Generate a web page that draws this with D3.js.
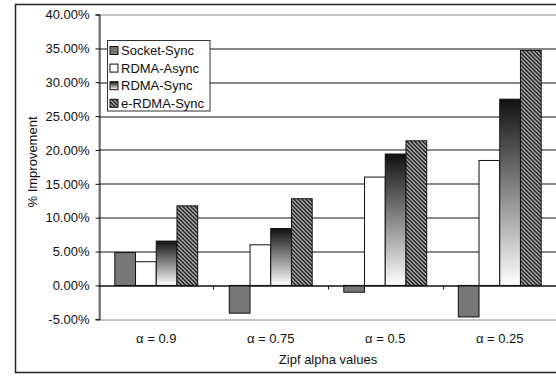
<!DOCTYPE html>
<html>
<head>
<meta charset="utf-8">
<script src="https://cdn.jsdelivr.net/npm/d3@7"></script>
<style>
  html, body { margin: 0; padding: 0; background: #fff; overflow: hidden; }
  svg { display: block; font-family: "Liberation Sans", Arial, sans-serif; }
</style>
</head>
<body>
<div id="chart"></div>
<script>
const categories = ['α = 0.9', 'α = 0.75', 'α = 0.5', 'α = 0.25'];
const seriesNames = ['Socket-Sync', 'RDMA-Async', 'RDMA-Sync', 'e-RDMA-Sync'];
const socketSync = [4.85, -4.1, -1.0, -4.65];
const rdmaAsync = [3.5, 6.0, 16.0, 18.45];
const rdmaSync = [6.55, 8.4, 19.4, 27.5];
const eRdmaSync = [11.75, 12.8, 21.35, 34.7];
const yTicks = [-5, 0, 5, 10, 15, 20, 25, 30, 35, 40];

const seriesValues = [socketSync, rdmaAsync, rdmaSync, eRdmaSync];
const data = categories.map((c, i) => ({
  cat: c,
  vals: seriesNames.map((s, j) => ({ key: s, value: seriesValues[j][i] }))
}));

const width = 556, height = 377;
const margin = { top: 14.5, right: -1, bottom: 57.7, left: 99 };
const innerWidth = width - margin.left - margin.right;
const innerHeight = height - margin.top - margin.bottom;

const svg = d3.select('#chart').append('svg')
  .attr('width', width)
  .attr('height', height);

const defs = svg.append('defs');
const grad = defs.append('linearGradient')
  .attr('id', 'syncGrad')
  .attr('x1', 0).attr('y1', 0).attr('x2', 0).attr('y2', 1);
grad.append('stop').attr('offset', '0%').attr('stop-color', '#111');
grad.append('stop').attr('offset', '100%').attr('stop-color', '#fff');

const hatch = defs.append('pattern')
  .attr('id', 'hatch')
  .attr('patternUnits', 'userSpaceOnUse')
  .attr('width', 4).attr('height', 4);
hatch.append('rect').attr('width', 4).attr('height', 4).attr('fill', '#fff');
hatch.append('path')
  .attr('d', 'M-1,-1 L5,5 M-1,3 L1,5 M3,-1 L5,1')
  .attr('stroke', '#000')
  .attr('stroke-width', 1.6);

const fills = {
  'Socket-Sync': '#777',
  'RDMA-Async': '#fff',
  'RDMA-Sync': 'url(#syncGrad)',
  'e-RDMA-Sync': 'url(#hatch)'
};

// outer chart frame (right side runs off the picture)
svg.append('rect')
  .attr('x', 15.5).attr('y', 4.5)
  .attr('width', 620).attr('height', 368)
  .attr('fill', 'none')
  .attr('stroke', '#222')
  .attr('stroke-width', 1.5);

const g = svg.append('g')
  .attr('transform', `translate(${margin.left},${margin.top})`);

const x0 = d3.scaleBand()
  .domain(categories)
  .range([0, innerWidth])
  .paddingInner(0.276)
  .paddingOuter(0.138);

const x1 = d3.scaleBand()
  .domain(seriesNames)
  .range([0, x0.bandwidth()]);

const y = d3.scaleLinear()
  .domain([-5, 40])
  .range([innerHeight, 0]);

// gridlines
g.selectAll('.grid')
  .data(yTicks.filter(t => t > -5 && t < 40))
  .enter().append('line')
  .attr('class', 'grid')
  .attr('x1', 0).attr('x2', innerWidth)
  .attr('y1', d => Math.round(y(d)) + 0.5)
  .attr('y2', d => Math.round(y(d)) + 0.5)
  .attr('stroke', '#111')
  .attr('stroke-width', 1);

// plot area border (grey)
g.append('rect')
  .attr('x', 0).attr('y', Math.round(y(40)) + 0.5)
  .attr('width', innerWidth + 10)
  .attr('height', Math.round(y(-5)) - Math.round(y(40)))
  .attr('fill', 'none')
  .attr('stroke', '#888')
  .attr('stroke-width', 1);

// bars
const groups = g.selectAll('.grp')
  .data(data)
  .enter().append('g')
  .attr('class', 'grp')
  .attr('transform', d => `translate(${x0(d.cat)},0)`);

groups.selectAll('rect')
  .data(d => d.vals)
  .enter().append('rect')
  .attr('x', d => x1(d.key))
  .attr('y', d => y(Math.max(0, d.value)))
  .attr('width', x1.bandwidth())
  .attr('height', d => Math.abs(y(d.value) - y(0)))
  .attr('fill', d => fills[d.key])
  .attr('stroke', '#111')
  .attr('stroke-width', 1);

// y axis
const yAxis = d3.axisLeft(y)
  .tickValues(yTicks)
  .tickSize(4)
  .tickPadding(6)
  .tickFormat(d => d.toFixed(2) + '%');

const yAxisG = g.append('g')
  .attr('transform', 'translate(0.5,0)')
  .attr('font-family', '"Liberation Sans", Arial, sans-serif')
  .call(yAxis);
yAxisG.select('.domain').attr('stroke', '#111');
yAxisG.selectAll('.tick line').attr('stroke', '#111');
yAxisG.selectAll('text')
  .attr('font-size', 13)
  .attr('fill', '#111');

// zero line with category ticks
g.append('line')
  .attr('x1', 0).attr('x2', innerWidth)
  .attr('y1', Math.round(y(0)) + 0.5).attr('y2', Math.round(y(0)) + 0.5)
  .attr('stroke', '#111');

g.selectAll('.cattick')
  .data(categories.slice(1))
  .enter().append('line')
  .attr('class', 'cattick')
  .attr('x1', d => Math.round(x0(d) - x0.step() * x0.paddingInner() / 2) + 0.5)
  .attr('x2', d => Math.round(x0(d) - x0.step() * x0.paddingInner() / 2) + 0.5)
  .attr('y1', y(0)).attr('y2', y(0) + 4)
  .attr('stroke', '#111');

// category labels
g.selectAll('.catlabel')
  .data(categories)
  .enter().append('text')
  .attr('class', 'catlabel')
  .attr('x', d => x0(d) + x0.bandwidth() / 2)
  .attr('y', innerHeight + 24)
  .attr('text-anchor', 'middle')
  .attr('font-size', 13)
  .attr('fill', '#111')
  .text(d => d);

// axis titles
g.append('text')
  .attr('x', innerWidth / 2)
  .attr('y', innerHeight + 45)
  .attr('text-anchor', 'middle')
  .attr('font-size', 13)
  .attr('fill', '#111')
  .text('Zipf alpha values');

g.append('text')
  .attr('transform', `translate(${37 - margin.left},${162 - margin.top}) rotate(-90)`)
  .attr('text-anchor', 'middle')
  .attr('font-size', 13)
  .attr('fill', '#111')
  .text('% Improvement');

// legend
const legend = svg.append('g').attr('transform', 'translate(107.5,40.5)');
legend.append('rect')
  .attr('width', 102.5).attr('height', 70.5)
  .attr('fill', '#fff')
  .attr('stroke', '#333');

const item = legend.selectAll('.item')
  .data(seriesNames)
  .enter().append('g')
  .attr('class', 'item')
  .attr('transform', (d, i) => `translate(0,${10 + i * 17.6})`);

item.append('rect')
  .attr('x', 2.5).attr('y', -4)
  .attr('width', 8).attr('height', 8)
  .attr('fill', d => fills[d])
  .attr('stroke', '#111');

item.append('text')
  .attr('x', 13.5)
  .attr('y', 4.5)
  .attr('font-size', 13)
  .attr('fill', '#111')
  .text(d => d);
</script>
</body>
</html>
